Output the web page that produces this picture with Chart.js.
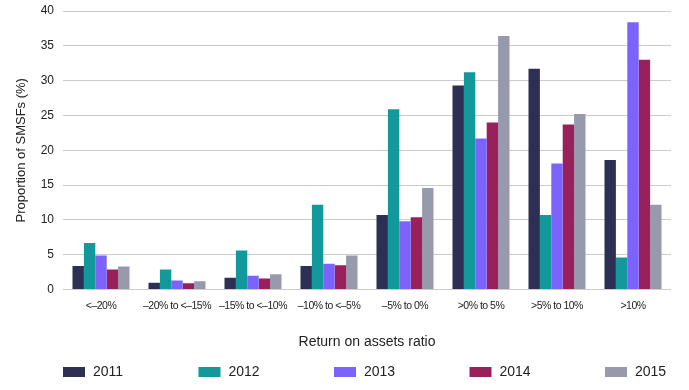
<!DOCTYPE html>
<html>
<head>
<meta charset="utf-8">
<script src="https://cdn.jsdelivr.net/npm/chart.js@4.4.1/dist/chart.umd.min.js"></script>
<style>
  html, body { margin: 0; padding: 0; background: #fff; }
  #wrap { width: 689px; height: 390px; }
</style>
</head>
<body>
<div id="wrap"><canvas id="myChart"></canvas></div>
<script>
// categories (x axis)
const categories = [
  "<–20%", "–20% to <–15%", "–15% to <–10%", "–10% to <–5%",
  "–5% to 0%", ">0% to 5%", ">5% to 10%", ">10%"
];
const years = ["2011", "2012", "2013", "2014", "2015"];
const colors = ["#2e2f55", "#13999b", "#7c63fe", "#9a205c", "#979aac"];

// proportion of SMSFs (%) per year
const values2011 = [3.4, 1.0, 1.7, 3.4, 10.7, 29.3, 31.7, 18.6];
const values2012 = [6.7, 2.9, 5.6, 12.2, 25.9, 31.2, 10.7, 4.6];
const values2013 = [4.9, 1.3, 2.0, 3.7, 9.8, 21.7, 18.1, 38.4];
const values2014 = [2.9, 0.9, 1.6, 3.5, 10.4, 24.0, 23.7, 33.0];
const values2015 = [3.3, 1.2, 2.2, 4.9, 14.6, 36.4, 25.2, 12.2];
const series = [values2011, values2012, values2013, values2014, values2015];

const yTicks = [0, 5, 10, 15, 20, 25, 30, 35, 40];

const textColor = "#222";

// setup block
const data = {
  labels: categories,
  datasets: years.map((year, i) => ({
    label: year,
    data: series[i],
    backgroundColor: colors[i],
    borderWidth: 0,
    barPercentage: 1,
    categoryPercentage: 0.75,
  })),
};

// x tick labels are drawn after the bars (ticks z: 1), tighten them a bit
const tightLabels = {
  id: "tightLabels",
  afterDatasetsDraw(chart) {
    chart.ctx.letterSpacing = "-0.5px";
  },
  afterDraw(chart) {
    chart.ctx.letterSpacing = "0px";
  },
};

// legend drawn along the bottom, spread under the plot
const bottomLegend = {
  id: "bottomLegend",
  afterDraw(chart) {
    const ctx = chart.ctx;
    const left = chart.chartArea.left;
    const boxTop = chart.height - 23;
    ctx.save();
    ctx.letterSpacing = "0px";
    ctx.font = "14px 'Liberation Sans', Arial, sans-serif";
    ctx.textBaseline = "middle";
    ctx.textAlign = "left";
    chart.data.datasets.forEach((ds, i) => {
      const x = left + i * 135.5;
      ctx.fillStyle = ds.backgroundColor;
      ctx.fillRect(x, boxTop, 22, 10);
      ctx.fillStyle = textColor;
      ctx.fillText(ds.label, x + 30, boxTop + 5.5);
    });
    ctx.restore();
  },
};

// config block
const config = {
  type: "bar",
  data: data,
  options: {
    responsive: true,
    maintainAspectRatio: false,
    animation: false,
    layout: { padding: { top: 11, right: 18, bottom: 39, left: 0 } },
    plugins: {
      legend: { display: false },
      tooltip: { enabled: false },
    },
    scales: {
      x: {
        grid: { display: false, drawTicks: false },
        border: { display: false },
        ticks: {
          z: 1,
          color: textColor,
          padding: 10,
          maxRotation: 0,
          autoSkip: false,
          font: { family: "'Liberation Sans', Arial, sans-serif", size: 10.5 },
        },
        title: {
          display: true,
          text: "Return on assets ratio",
          color: textColor,
          padding: { top: 12, bottom: 0 },
          font: { family: "'Liberation Sans', Arial, sans-serif", size: 14 },
        },
      },
      y: {
        min: 0,
        max: 40,
        afterBuildTicks: (scale) => {
          scale.ticks = yTicks.map((v) => ({ value: v }));
        },
        afterFit: (scale) => {
          scale.width = 63;
          scale.paddingTop = 0;
          scale.paddingBottom = 0;
        },
        grid: { color: "#cccccc", lineWidth: 1, drawTicks: false },
        border: { display: false },
        ticks: {
          color: textColor,
          padding: 9,
          font: { family: "'Liberation Sans', Arial, sans-serif", size: 12 },
        },
        title: {
          display: true,
          text: "Proportion of SMSFs (%)",
          color: textColor,
          padding: { top: 14, bottom: 0 },
          font: { family: "'Liberation Sans', Arial, sans-serif", size: 13 },
        },
      },
    },
  },
  plugins: [tightLabels, bottomLegend],
};

// render init block
const myChart = new Chart(document.getElementById("myChart"), config);
</script>
</body>
</html>
